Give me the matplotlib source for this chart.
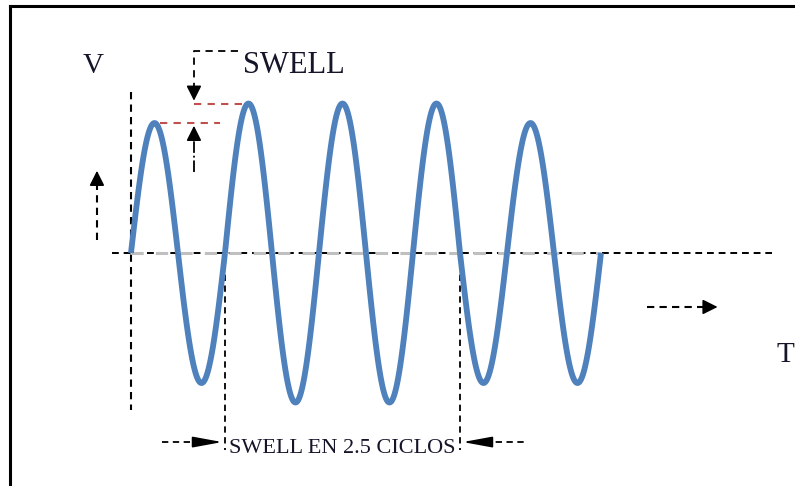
import numpy as np
import matplotlib
matplotlib.use('Agg')
import matplotlib.pyplot as plt

# amplitude of each half cycle (per unit), swell from cycle 1 to 3.5
half_cycle_amp = [1.0, 1.0, 1.15, 1.15, 1.15, 1.15, 1.15, 1.0, 1.0, 1.0]
swell_start = 1.0
swell_end = 3.5
label_v = 'V'
label_t = 'T'
label_swell = 'SWELL'
label_cycles = 'SWELL EN 2.5 CICLOS'

blue = '#4f81bd'
red = '#c0504d'
grey = '#c0c0c0'
txt = '#15152a'
dash = (0, (3.5, 2.5))

fig = plt.figure(figsize=(7.95, 4.86), dpi=100)
ax = fig.add_axes([10/795, 0, 1 - 10/795, 1 - 6/486])
ax.set_xlim(-1.287, 7.064)
ax.set_ylim(-1.792, 1.9)
ax.set_xticks([])
ax.set_yticks([])
ax.spines['right'].set_visible(False)
ax.spines['bottom'].set_visible(False)
ax.spines['left'].set_linewidth(2.2)
ax.spines['top'].set_linewidth(2.2)

# wave
for k, a in enumerate(half_cycle_amp):
    t = np.linspace(k/2, (k+1)/2, 60)
    ax.plot(t, a*np.sin(2*np.pi*t), color=blue, lw=4.2, zorder=5, solid_capstyle='butt')

n_cycles = len(half_cycle_amp)/2

# axes lines
ax.plot([-0.2, 6.82], [0, 0], color='k', lw=1.4, ls=dash, zorder=2)
ax.plot([0, n_cycles], [0, 0], color=grey, lw=2.2, ls=(0, (4, 4)), zorder=3)
ax.plot([0, 0], [1.238, -1.208], color='k', lw=1.5, ls=dash, zorder=2)

head = dict(arrowstyle='-|>,head_length=0.6,head_width=0.3', color='k', lw=1.2, mutation_scale=15)
thin_head = dict(arrowstyle='-|>,head_length=1.2,head_width=0.22', color='k', lw=1.2, mutation_scale=15)

# V direction arrow
ax.plot([-0.362, -0.362], [0.1, 0.6], color='k', lw=1.5, ls=dash)
ax.annotate('', xy=(-0.362, 0.654), xytext=(-0.362, 0.55), arrowprops=head)
# T direction arrow
ax.plot([5.49, 6.15], [-0.415, -0.415], color='k', lw=1.5, ls=dash)
ax.annotate('', xy=(6.27, -0.415), xytext=(6.1, -0.415), arrowprops=head)

ax.text(-0.404, 1.44, label_v, fontsize=21, family='Liberation Serif', color=txt, ha='center', va='center')
ax.text(6.87, -0.785, label_t, fontsize=21, family='Liberation Serif', color=txt, ha='left', va='center')

# swell marker
amp_n = half_cycle_amp[0]
amp_s = max(half_cycle_amp)
xm = 0.67
ax.plot([1.14, xm, xm], [1.554, 1.554, amp_s + 0.1], color='k', lw=1.3, ls=(0, (4, 3)))
ax.annotate('', xy=(xm, amp_s), xytext=(xm, amp_s + 0.12), arrowprops=head)
ax.plot([xm, 1.18], [amp_s, amp_s], color=red, lw=1.5, ls=(0, (3.5, 3)))
ax.plot([0.31, 0.95], [amp_n, amp_n], color=red, lw=1.5, ls=(0, (3.5, 3)))
ax.plot([xm, xm], [0.623, amp_n - 0.1], color='k', lw=1.3, ls='-.')
ax.annotate('', xy=(xm, amp_n), xytext=(xm, amp_n - 0.12), arrowprops=head)
ax.text(1.19, 1.44, label_swell, fontsize=22, family='Liberation Serif', color=txt, ha='left', va='center')

# duration marker
yb = -1.454
ax.plot([swell_start, swell_start], [0, -1.515], color='k', lw=1.3, ls=dash)
ax.plot([swell_end, swell_end], [0, -1.515], color='k', lw=1.3, ls=dash)
ax.plot([0.33, swell_start - 0.15], [yb, yb], color='k', lw=1.3, ls=dash)
ax.annotate('', xy=(swell_start, yb), xytext=(swell_start - 0.25, yb), arrowprops=thin_head)
ax.plot([swell_end + 0.15, 4.22], [yb, yb], color='k', lw=1.3, ls=dash)
ax.annotate('', xy=(swell_end, yb), xytext=(swell_end + 0.25, yb), arrowprops=thin_head)
ax.text((swell_start + swell_end)/2, -1.5, label_cycles, fontsize=16, family='Liberation Serif',
        color=txt, ha='center', va='center')

fig.savefig('out.png', dpi=100)
